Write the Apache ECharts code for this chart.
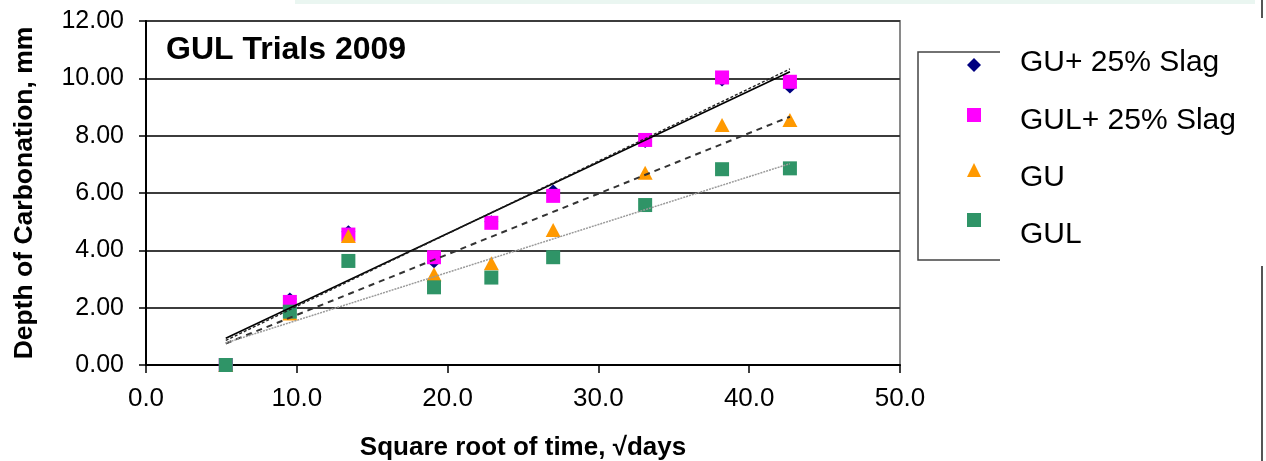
<!DOCTYPE html>
<html>
<head>
<meta charset="utf-8">
<script src="https://cdn.jsdelivr.net/npm/echarts@6/dist/echarts.min.js"></script>
<style>
  html, body { margin: 0; padding: 0; background: #ffffff; }
  #chart { width: 1266px; height: 461px; }
</style>
</head>
<body>
<div id="chart"></div>
<script>
// Square root of exposure time (√days) for each test age
const sqrtDays = [5.29, 9.54, 13.42, 19.1, 22.9, 27.0, 33.1, 38.2, 42.7];

// Depth of carbonation (mm) for each mix
const guSlag  = [0, 2.30, 4.65, 3.60, 5.00, 6.07, 7.80, 9.94, 9.70];
const gulSlag = [0, 2.20, 4.55, 3.76, 4.96, 5.90, 7.85, 10.03, 9.88];
const gu      = [0, 1.80, 4.50, 3.17, 3.55, 4.71, 6.71, 8.37, 8.55];
const gul     = [0, 1.86, 3.63, 2.71, 3.05, 3.76, 5.58, 6.83, 6.86];

const seriesNames = ['GU+ 25% Slag', 'GUL+ 25% Slag', 'GU', 'GUL'];
const xTicks = [0, 10, 20, 30, 40, 50];
const yTicks = [0, 2, 4, 6, 8, 10, 12];

const FONT = '"Liberation Sans", Arial, sans-serif';

function pairs(ys) {
  return sqrtDays.map((x, i) => [x, ys[i]]);
}

// Least-squares linear trendline spanning the measured range
function trend(ys) {
  const n = sqrtDays.length;
  const mx = sqrtDays.reduce((a, b) => a + b, 0) / n;
  const my = ys.reduce((a, b) => a + b, 0) / n;
  let sxy = 0, sxx = 0;
  for (let i = 0; i < n; i++) {
    sxy += (sqrtDays[i] - mx) * (ys[i] - my);
    sxx += (sqrtDays[i] - mx) * (sqrtDays[i] - mx);
  }
  const b = sxy / sxx;
  const a = my - b * mx;
  const x0 = Math.min(...sqrtDays), x1 = Math.max(...sqrtDays);
  return [[x0, a + b * x0], [x1, a + b * x1]];
}

function scatter(name, ys, symbol, size, color) {
  return {
    name: name, type: 'scatter', data: pairs(ys),
    symbol: symbol, symbolSize: size,
    itemStyle: { color: color, opacity: 1 },
    z: 2, silent: true
  };
}

function trendLine(ys, color, width, type) {
  return {
    type: 'line', data: trend(ys), showSymbol: false, symbol: 'none',
    lineStyle: { color: color, width: width, type: type },
    z: 3, silent: true
  };
}

// One legend block per entry so each label can sit slightly off its marker
function legendEntry(name, icon, top, padTop, padBottom) {
  return {
    orient: 'vertical',
    left: 967, top: top,
    padding: 0,
    itemWidth: 14, itemHeight: 14,
    data: [{ name: name, icon: icon }],
    formatter: n => '{t|' + n + '}',
    textStyle: {
      padding: [padTop, 0, padBottom, 34],
      rich: {
        t: { fontFamily: FONT, fontSize: 30, lineHeight: 30, color: '#000' }
      }
    },
    selectedMode: false
  };
}

const chart = echarts.init(document.getElementById('chart'), null, { renderer: 'canvas' });

chart.setOption({
  animation: false,
  backgroundColor: '#ffffff',
  title: {
    text: 'GUL Trials 2009',
    left: 161, top: 29,
    textStyle: { fontFamily: FONT, fontSize: 32, fontWeight: 'bold', color: '#000' }
  },
  grid: {
    left: 146, right: 366, top: 21, bottom: 96,
    outerBoundsMode: 'none',
    show: true, borderColor: '#8a8a8a', borderWidth: 2, backgroundColor: '#fff'
  },
  legend: [
    legendEntry(seriesNames[0], 'diamond', 48, 0, 4),
    legendEntry(seriesNames[1], 'rect', 106, 12, 0),
    legendEntry(seriesNames[2], 'triangle', 163, 16, 0),
    legendEntry(seriesNames[3], 'rect', 213, 30, 0)
  ],
  xAxis: {
    type: 'value', min: xTicks[0], max: xTicks[xTicks.length - 1], interval: 10,
    name: 'Square root of time, √days',
    nameLocation: 'middle', nameGap: 70,
    nameTextStyle: { fontFamily: FONT, fontSize: 26, fontWeight: 'bold', color: '#000' },
    axisLine: { show: true, onZero: false, lineStyle: { color: '#000', width: 2 } },
    axisTick: { show: true, inside: false, length: 8, lineStyle: { color: '#000', width: 1.5 } },
    axisLabel: {
      margin: 21, fontFamily: FONT, fontSize: 26, color: '#000',
      formatter: v => v.toFixed(1)
    },
    splitLine: { show: false }
  },
  yAxis: {
    type: 'value', min: yTicks[0], max: yTicks[yTicks.length - 1], interval: 2,
    name: 'Depth of Carbonation, mm',
    nameLocation: 'middle', nameGap: 108,
    nameTextStyle: { fontFamily: FONT, fontSize: 26.5, fontWeight: 'bold', color: '#000' },
    axisLine: { show: true, onZero: false, lineStyle: { color: '#000', width: 2 } },
    axisTick: { show: true, inside: false, length: 7, lineStyle: { color: '#000', width: 1.5 } },
    axisLabel: {
      margin: 22, fontFamily: FONT, fontSize: 25, color: '#000',
      formatter: v => v.toFixed(2)
    },
    splitLine: { show: true, lineStyle: { color: '#3c3c3c', width: 2 } }
  },
  graphic: [
    // pale strip along the top edge
    { type: 'rect', left: 295, top: 0, shape: { width: 960, height: 4 },
      style: { fill: '#eaf6f1' }, silent: true },
    // legend frame, partly hidden behind the label panel
    { type: 'polyline', silent: true,
      shape: { points: [[1000, 52], [918, 52], [918, 260], [1000, 260]] },
      style: { stroke: '#444', lineWidth: 1.5, fill: null } },
    // right-hand frame edge
    { type: 'line', silent: true, shape: { x1: 1262, y1: 0, x2: 1262, y2: 18 },
      style: { stroke: '#555', lineWidth: 2 } },
    { type: 'line', silent: true, shape: { x1: 1262, y1: 266, x2: 1262, y2: 461 },
      style: { stroke: '#555', lineWidth: 2 } }
  ],
  series: [
    scatter(seriesNames[0], guSlag, 'diamond', [14, 13], '#000080'),
    scatter(seriesNames[1], gulSlag, 'rect', 14, '#ff00ff'),
    scatter(seriesNames[2], gu, 'triangle', [15, 14], '#ff9900'),
    scatter(seriesNames[3], gul, 'rect', 14, '#2f9467'),
    trendLine(guSlag, '#000', 1.6, 'solid'),
    trendLine(gulSlag, '#222', 1.4, [3, 2]),
    trendLine(gu, '#333', 2, [6, 5]),
    trendLine(gul, '#9a9a9a', 1.5, [2, 1])
  ]
});
</script>
</body>
</html>
